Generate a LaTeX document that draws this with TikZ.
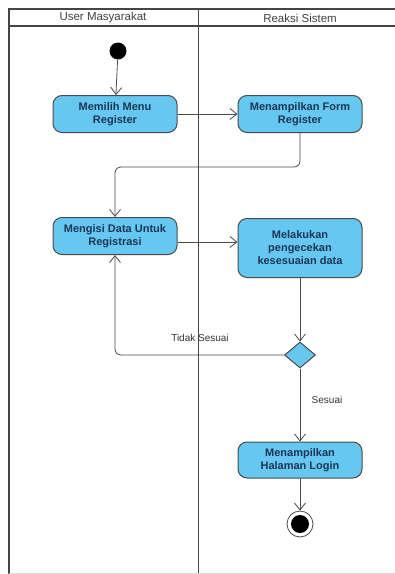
\documentclass[tikz,border=0pt]{standalone}
\usepackage{fontspec}
\setmainfont{Liberation Sans}
\usetikzlibrary{arrows.meta,shapes.geometric}

\definecolor{actfill}{HTML}{66C8F0}
\definecolor{acttext}{HTML}{1B3556}
\definecolor{lanegray}{HTML}{454545}
\definecolor{flowgray}{HTML}{4A4A4A}

\tikzset{
  action/.style={draw=flowgray, fill=actfill, rounded corners=9pt, line width=1pt,
    minimum width=124pt, align=center, text=acttext,
    font=\fontsize{11}{13}\selectfont\bfseries, inner sep=2pt},
  flow/.style={draw=flowgray, line width=0.8pt,
    -{Straight Barb[length=7pt,width=11pt,line width=0.8pt]}},
  guard/.style={font=\fontsize{10}{12}\selectfont, text=black!80}
}

\begin{document}
\begin{tikzpicture}[x=1pt, y=-1pt]
\useasboundingbox (0,0) rectangle (395,574);

% swimlanes
\draw[lanegray, line width=1.6pt] (395,9) -- (9,9) -- (9,574);
\draw[lanegray, line width=1.4pt] (9,26) -- (395,26);
\draw[lanegray, line width=1.8pt] (198.5,9) -- (198.5,574);
\draw[black!15, line width=0.8pt] (9,573) -- (395,573);

\node[font=\fontsize{11.5}{13}\selectfont, text=black!75] (laneuser) at (103,18) {User Masyarakat};
\node[font=\fontsize{11.5}{13}\selectfont, text=black!75] (lanesys) at (300,18) {Reaksi Sistem};


\node[circle, fill=black, minimum size=17pt, inner sep=0pt] (start) at (118,51) {};

\node[action, minimum height=37pt] (pilihmenu) at (115,114) {Memilih Menu\\Register};

\node[action, minimum height=37pt] (formreg) at (300,114) {Menampilkan Form\\Register};

\node[action, minimum height=37pt] (isidata) at (115,236) {Mengisi Data Untuk\\Registrasi};

\node[action, minimum height=59pt] (cekdata) at (300,248) {Melakukan\\pengecekan\\kesesuaian data};

\node[diamond, draw=flowgray, fill=actfill, line width=1pt, minimum width=31pt,
  minimum height=26pt, inner sep=0pt] (cek) at (300,355) {};

\node[action, minimum height=36pt] (login) at (300,460) {Menampilkan\\Halaman Login};

\node[circle, draw=flowgray, line width=0.8pt, minimum size=26pt, inner sep=0pt] (finish) at (300,524) {};
\node[circle, fill=black, minimum size=18pt, inner sep=0pt] (finishdot) at (finish) {};


\draw[flow] (start) -- (pilihmenu);
\draw[flow] (pilihmenu) -- (formreg);
\draw[flow, rounded corners=6pt] (formreg.south) -- (300,167) -- (115,167) -- (isidata.north);
\draw[flow] (isidata.east |- 0,242) -- (cekdata.west |- 0,242);
\draw[flow] (cekdata) -- (cek);
\draw[flow, rounded corners=6pt] (cek.west) -- (115,355) -- (isidata.south);
\draw[flow] (cek) -- (login);
\draw[flow] (login) -- (finish);

\node[guard] (tidak) at (200,338) {Tidak Sesuai};
\node[guard] (sesuai) at (327,400) {Sesuai};

\end{tikzpicture}
\end{document}
